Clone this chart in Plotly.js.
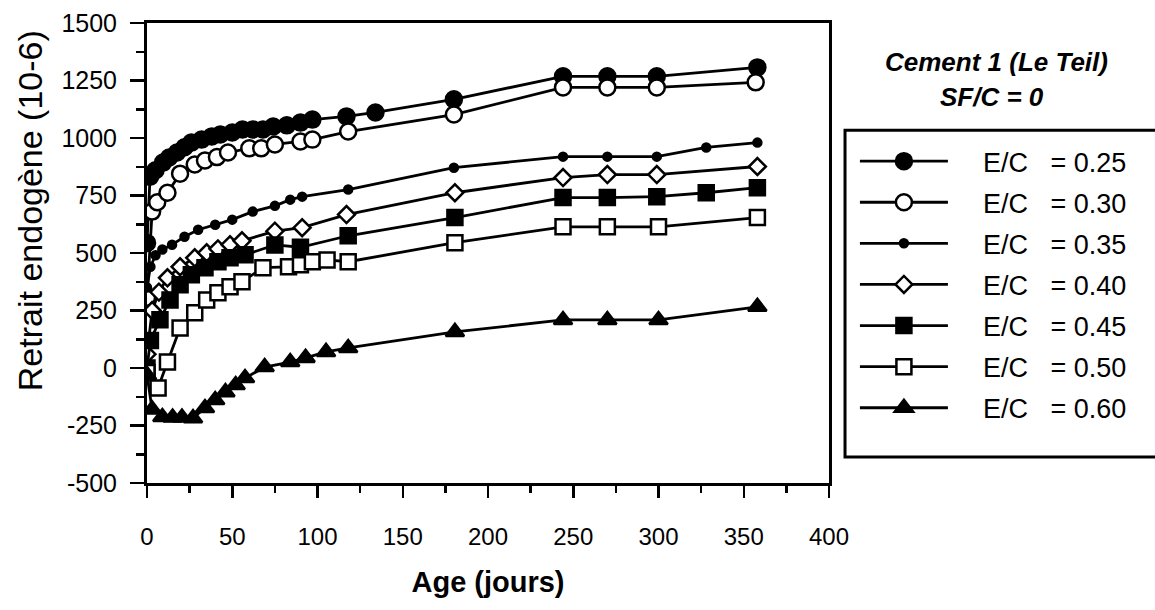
<!DOCTYPE html>
<html>
<head>
<meta charset="utf-8">
<script src="https://cdn.plot.ly/plotly-3.0.1.min.js"></script>
<style>html,body{margin:0;padding:0;background:#fff;}#chart{width:1155px;height:610px;}</style>
</head>
<body>
<div id="chart"></div>
<script>
// Age (days) and shrinkage (10^-6) for each E/C ratio
const labels = ["E/C\u00a0\u00a0\u00a0= 0.25","E/C\u00a0\u00a0\u00a0= 0.30","E/C\u00a0\u00a0\u00a0= 0.35","E/C\u00a0\u00a0\u00a0= 0.40","E/C\u00a0\u00a0\u00a0= 0.45","E/C\u00a0\u00a0\u00a0= 0.50","E/C\u00a0\u00a0\u00a0= 0.60"];

const x025 = [0,1.8,5,9.4,13,17.6,22,26,32,38,43,50,56,62,68,74,82,90,97,117,134,180,244,270,299,358];
const y025 = [544,832,860,893,915,937,960,980,993,1007,1015,1024,1037,1037,1037,1050,1055,1067,1080,1094,1111,1168,1268,1268,1268,1307];

const x030 = [0,3,6,12,19.4,28,34,41,47.5,60,67,75,90,97,118,180,244,270,299,357];
const y030 = [305,680,721,762,845,885,902,917,937,955,955,972,985,993,1028,1102,1220,1220,1220,1242];

const x035 = [0,2,5,9,14.7,22,30,40,50,62,75,84,91,118,180,244,270,299,328,358];
const y035 = [350,440,490,515,536,571,601,623,645,680,705,732,745,776,871,919,919,919,959,980];

const x040 = [0,3,7,12,19.4,28,35,41.6,48.7,55.7,75,91,117,180.6,244,270,299,358];
const y040 = [60,250,330,392,440,479,501,518,536,553,595,610,667,762,828,841,841,876];

const x045 = [0,2,7.6,13.5,19.4,26,34,41.6,48.7,57.5,75,90,118,180.6,244,270,299,328,358];
const y045 = [0,120,210,296,362,405,436,462,479,492,535,525,575,654,741,741,745,762,784];

const x050 = [0,6.5,12,19.4,28,35,41.6,48.7,55.7,68,83,90,97,105.6,118,180.6,244,270,300,358];
const y050 = [-20,-87,26,174,240,296,327,353,375,436,440,449,462,470,462,545,614,614,614,654];

const x060 = [0,3,9,15,20.5,27,34,40,46,52,57.5,69,84,93,105,118,180.6,244,270,300,358];
const y060 = [-30,-180,-213,-215,-215,-218,-174,-139,-105,-74,-44,4,26,44,70,87,157,209,209,209,266];

const xTickVals = [0,50,100,150,200,250,300,350,400];
const yTickVals = [-500,-250,0,250,500,750,1000,1250,1500];

const LW = 2.8;
const PAD = '\u00a0\u00a0\u00a0\u00a0';
function tr(x, y, name, symbol, size, fill, group) {
  return {
    x: x, y: y, name: PAD + name, type: 'scatter', mode: 'lines+markers',
    legendgroup: group,
    line: {color: '#000', width: LW},
    marker: {symbol: symbol, size: size, color: fill, line: {color: '#000', width: 2.5}}
  };
}

const data = [
  tr(x025, y025, labels[0], 'circle', 16, '#000', 'a'),
  tr(x030, y030, labels[1], 'circle', 16, '#fff', 'b'),
  tr(x035, y035, labels[2], 'circle', 8, '#000', 'c'),
  tr(x040, y040, labels[3], 'diamond', 13, '#fff', 'd'),
  tr(x045, y045, labels[4], 'square', 15, '#000', 'e'),
  tr(x050, y050, labels[5], 'square', 15, '#fff', 'f'),
  tr(x060, y060, labels[6], 'triangle-up', 16, '#000', 'g')
];

const FONT = 'Liberation Sans, Arial, sans-serif';

const layout = {
  width: 1155, height: 610,
  paper_bgcolor: '#fff', plot_bgcolor: '#fff',
  margin: {l: 147, r: 326, t: 23, b: 127, pad: 0},
  font: {family: FONT, color: '#000', size: 24},
  showlegend: true,
  xaxis: {
    range: [0, 400], tickvals: xTickVals, ticktext: xTickVals.map(String),
    showgrid: false, zeroline: false,
    showline: true, linecolor: '#000', linewidth: 3, mirror: true,
    ticks: 'outside', ticklen: 12, tickwidth: 2.5, tickcolor: '#000',
    ticklabelstandoff: 18,
    tickfont: {family: FONT, size: 24, color: '#000'},
    minor: {dtick: 25, tick0: 0, ticks: 'outside', ticklen: 7, tickwidth: 2.5, tickcolor: '#000', showgrid: false},
    title: {text: '<b>Age (jours)</b>', font: {family: FONT, size: 29, color: '#000'}, standoff: 23}
  },
  yaxis: {
    range: [-500, 1500], tickvals: yTickVals, ticktext: yTickVals.map(String),
    showgrid: false, zeroline: false,
    showline: true, linecolor: '#000', linewidth: 3, mirror: true,
    ticks: 'outside', ticklen: 14, tickwidth: 2.5, tickcolor: '#000',
    ticklabelstandoff: 8,
    tickfont: {family: FONT, size: 25, color: '#000'},
    minor: {dtick: 125, tick0: 0, ticks: 'outside', ticklen: 8, tickwidth: 2.5, tickcolor: '#000', showgrid: false}
  },
  legend: {
    x: 1.038, xanchor: 'left', y: 0.752, yanchor: 'top',
    bgcolor: 'rgba(0,0,0,0)', borderwidth: 0,
    font: {family: FONT, size: 27, color: '#000'},
    tracegroupgap: 3, itemwidth: 88
  },
  shapes: [
    {type: 'rect', xref: 'paper', yref: 'paper', x0: 1.0235, x1: 1.6, y0: 0.0565, y1: 0.767,
     line: {color: '#000', width: 3}, fillcolor: 'rgba(0,0,0,0)'}
  ],
  annotations: [
    {xref: 'paper', yref: 'paper', x: -0.1716, y: 0.593, showarrow: false, xanchor: 'center', yanchor: 'middle',
     textangle: -90, text: 'Retrait endogène (10-6)', font: {family: FONT, size: 34, color: '#000'}},
    {xref: 'paper', yref: 'paper', x: 1.2463, y: 0.915, showarrow: false, xanchor: 'center', yanchor: 'middle',
     text: '<b><i>Cement 1 (Le Teil)</i></b>', font: {family: FONT, size: 26, color: '#000'}},
    {xref: 'paper', yref: 'paper', x: 1.239, y: 0.839, showarrow: false, xanchor: 'center', yanchor: 'middle',
     text: '<b><i>SF/C = 0</i></b>', font: {family: FONT, size: 26, color: '#000'}}
  ]
};

Plotly.newPlot('chart', data, layout, {displayModeBar: false, staticPlot: true});
</script>
</body>
</html>
